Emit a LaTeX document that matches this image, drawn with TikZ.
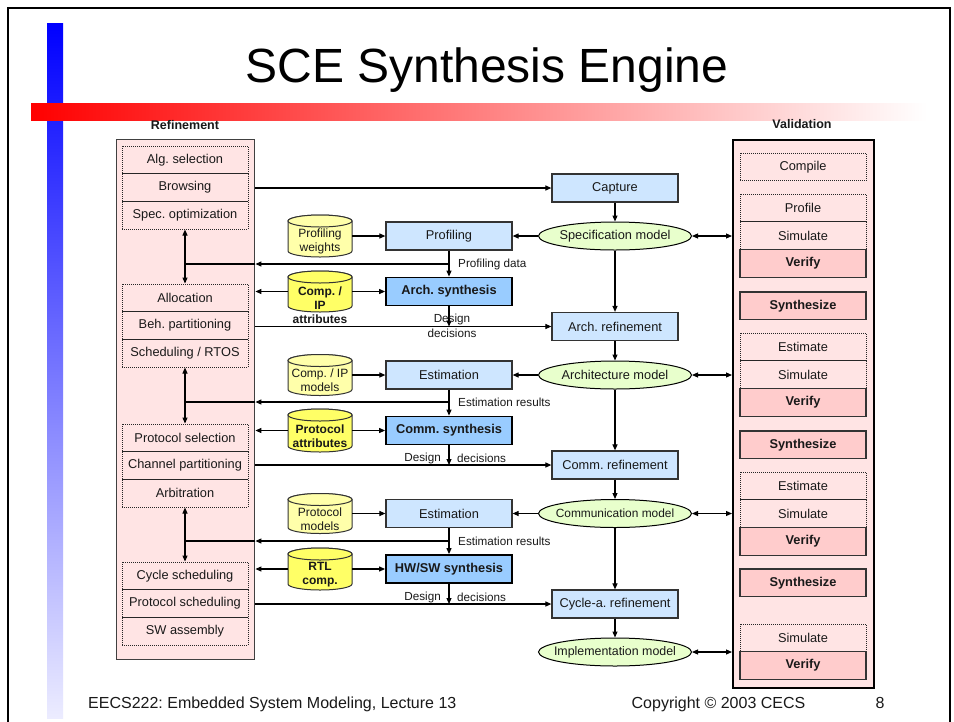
\documentclass[tikz,border=0pt]{standalone}
\usepackage{fontspec}
\setmainfont{Liberation Sans}
\usetikzlibrary{arrows.meta,shapes.geometric,calc}
\frenchspacing
\definecolor{pinkbg}{RGB}{255,228,228}
\definecolor{verif}{RGB}{255,204,204}
\definecolor{boxblue}{RGB}{206,230,255}
\definecolor{boldblue}{RGB}{153,204,255}
\definecolor{ellgreen}{RGB}{232,255,204}
\definecolor{lightyel}{RGB}{255,255,170}
\definecolor{boldyel}{RGB}{255,255,102}
\definecolor{barblue}{RGB}{0,0,255}
\definecolor{barfade}{RGB}{236,236,255}
\definecolor{barmid}{RGB}{255,150,150}
\definecolor{txt}{RGB}{25,25,25}
\newcommand\myfs[1]{\fontsize{#1}{#1}\selectfont}
\newcommand\dbcyl[7]{%
  \path[draw=black!80, line width=1pt, fill=#5]
    (#2-32,#3+#4/2-6) arc[start angle=180, end angle=360, x radius=32pt, y radius=6pt]
    -- (#2+32,#3-#4/2+6) arc[start angle=0, end angle=180, x radius=32pt, y radius=6pt] -- cycle;
  \draw[line width=1pt, draw=black!80, fill=#5] (#2,#3-#4/2+6) ellipse[x radius=32pt, y radius=6pt];
  \node[minimum width=64pt, minimum height=#4pt] (#1) at (#2,#3) {};
  \node[align=center, text=txt, font=\fontsize{12}{14}\selectfont] at (#2,#3+#6) {#7};
}
\begin{document}
\begin{tikzpicture}[x=1pt,y=-1pt,
  every node/.style={inner sep=0pt, font=\myfs{12.8}, text=txt},
  rowbox/.style={draw=black!85, dash pattern=on 1pt off 1pt, line width=0.9pt, minimum width=126pt, minimum height=27.7pt},
  vbox/.style={draw=black!80, line width=1.2pt, fill=verif, minimum width=126pt, minimum height=27.7pt, font=\bfseries\myfs{12.8}},
  mbox/.style={draw=black!80, line width=1.2pt, fill=boxblue, minimum width=126pt, minimum height=28pt},
  sbox/.style={mbox, fill=boldblue, line width=1.8pt, draw=black, font=\bfseries\myfs{12.8}},
  ell/.style={ellipse, draw=black, line width=1pt, fill=ellgreen, minimum width=153pt, minimum height=28pt},
  arr/.style={-{Triangle[length=6pt,width=5pt]}, line width=1.1pt},
  darr/.style={{Triangle[length=6pt,width=5pt]}-{Triangle[length=6pt,width=5pt]}, line width=1.1pt},
  thk/.style={line width=2.2pt},
  lbl/.style={font=\myfs{11.7}}
]
\path[use as bounding box, fill=white] (0,0) rectangle (954,721);
% slide decoration
\shade[top color=barblue, bottom color=barfade] (47,23) rectangle (63,718);
\shade[left color=red, middle color=barmid, right color=white] (31,103) rectangle (927,120);
\draw[line width=2pt] (8,725) -- (8,8) -- (950,8) -- (950,725);
\node[font=\myfs{48}, text=black, anchor=base] (title) at (487,82) {SCE Synthesis Engine};
\node[font=\bfseries\myfs{12.5}] (reflbl) at (185,125) {Refinement};
\node[font=\bfseries\myfs{12.5}] (vallbl) at (802,124) {Validation};

% panels
\node[draw=black!75, line width=1.4pt, fill=pinkbg, minimum width=138pt, minimum height=520pt, anchor=north west] (lp) at (116,139) {};
\node[draw=black, line width=2pt, fill=pinkbg, minimum width=141pt, minimum height=548pt, anchor=north west] (vp) at (732,139) {};

% refinement rows
\node[rowbox] (alg) at (185,159.85) {Alg. selection};
\node[rowbox] (browse) at (185,187.55) {Browsing};
\node[rowbox] (specopt) at (185,215.25) {Spec. optimization};
\node[rowbox] (alloc) at (185,297.85) {Allocation};
\node[rowbox] (behpart) at (185,325.55) {Beh. partitioning};
\node[rowbox] (sched) at (185,353.25) {Scheduling / RTOS};
\node[rowbox] (protsel) at (185,437.85) {Protocol selection};
\node[rowbox] (chanpart) at (185,465.55) {Channel partitioning};
\node[rowbox] (arbit) at (185,493.25) {Arbitration};
\node[rowbox] (cycsched) at (185,575.85) {Cycle scheduling};
\node[rowbox] (protsched) at (185,603.55) {Protocol scheduling};
\node[rowbox] (swasm) at (185,631.25) {SW assembly};

% validation rows
\node[rowbox] (compile) at (803,166.85) {Compile};
\node[rowbox] (profile) at (803,207.85) {Profile};
\node[rowbox] (sim1) at (803,235.55) {Simulate};
\node[vbox] (ver1) at (803,263.25) {Verify};
\node[vbox] (syn1) at (803,305.85) {Synthesize};
\node[rowbox] (est1v) at (803,346.85) {Estimate};
\node[rowbox] (sim2) at (803,374.55) {Simulate};
\node[vbox] (ver2) at (803,402.25) {Verify};
\node[vbox] (syn2) at (803,444.85) {Synthesize};
\node[rowbox] (est2v) at (803,485.85) {Estimate};
\node[rowbox] (sim3) at (803,513.55) {Simulate};
\node[vbox] (ver3) at (803,541.25) {Verify};
\node[vbox] (syn3) at (803,582.85) {Synthesize};
\node[rowbox] (sim4) at (803,637.85) {Simulate};
\node[vbox] (ver4) at (803,665.55) {Verify};

% middle boxes
\node[mbox] (capture) at (615,188) {Capture};
\node[mbox] (profiling) at (449,236) {Profiling};
\node[sbox] (archsyn) at (449,291.5) {Arch. synthesis};
\node[mbox] (archref) at (615,326.5) {Arch. refinement};
\node[mbox] (estA) at (449,375) {Estimation};
\node[sbox] (commsyn) at (449,430.5) {Comm. synthesis};
\node[mbox] (commref) at (615,465) {Comm. refinement};
\node[mbox] (estB) at (449,513.5) {Estimation};
\node[sbox] (hwsw) at (449,569) {HW/SW synthesis};
\node[mbox] (cycref) at (615,604) {Cycle-a. refinement};

% ellipses
\node[ell] (spec) at (615,236) {};
\node at (spec) {Specification model};
\node[ell] (archm) at (615,375) {};
\node at (archm) {Architecture model};
\node[ell] (commm) at (615,513.5) {};
\node[font=\myfs{11.9}] at (commm) {Communication model};
\node[ell] (implm) at (615,652) {};
\node[font=\myfs{12.4}] at (implm) {Implementation model};

% cylinders
\dbcyl{profw}{320}{236}{42}{lightyel}{5.5}{Profiling\\weights}
\dbcyl{cipa}{320}{291.5}{41}{boldyel}{13.5}{\bfseries Comp. /\\\bfseries IP\\\bfseries attributes}
\dbcyl{cipm}{320}{375}{41}{lightyel}{5.5}{Comp. / IP\\models}
\dbcyl{prota}{320}{430.5}{43}{boldyel}{5.5}{\bfseries Protocol\\\bfseries attributes}
\dbcyl{protm}{320}{513.5}{40}{lightyel}{5.5}{Protocol\\models}
\dbcyl{rtl}{320}{569}{42}{boldyel}{6}{\bfseries RTL\\\bfseries comp.}

% helper points
\coordinate (pd) at (449,264);
\coordinate (er1) at (449,402);
\coordinate (er2) at (449,541);

% connectors: main flow
\draw[arr] (lp.east |- capture.west) -- (capture.west);
\draw[arr] (capture.south) -- (spec.north);
\draw[arr] (spec.west) -- (profiling.east);
\draw[darr] (spec.east) -- (spec.east -| vp.west);
\draw[arr] (spec.south) -- (archref.north);
\draw[arr] (profw.east) -- (profiling.west);
\draw[arr] (profiling.south) -- (archsyn.north);
\draw[arr] (pd) -- (pd -| lp.east);
\draw[thk] (pd -| lp.east) -- (pd -| specopt.south);
\draw[darr] (specopt.south) -- (alloc.north);
\draw[arr] (cipa.west) -- (cipa.west -| lp.east);
\draw[arr] (cipa.east) -- (archsyn.west);
\draw[arr] (archsyn.south) -- (archsyn.south |- archref.west);
\draw[arr] (lp.east |- archref.west) -- (archref.west);

\draw[arr] (archref.south) -- (archm.north);
\draw[arr] (archm.west) -- (estA.east);
\draw[darr] (archm.east) -- (archm.east -| vp.west);
\draw[arr] (archm.south) -- (commref.north);
\draw[arr] (cipm.east) -- (estA.west);
\draw[arr] (estA.south) -- (commsyn.north);
\draw[arr] (er1) -- (er1 -| lp.east);
\draw[thk] (er1 -| lp.east) -- (er1 -| sched.south);
\draw[darr] (sched.south) -- (protsel.north);
\draw[arr] (prota.west) -- (prota.west -| lp.east);
\draw[arr] (prota.east) -- (commsyn.west);
\draw[arr] (commsyn.south) -- (commsyn.south |- commref.west);
\draw[arr] (lp.east |- commref.west) -- (commref.west);

\draw[arr] (commref.south) -- (commm.north);
\draw[arr] (commm.west) -- (estB.east);
\draw[darr] (commm.east) -- (commm.east -| vp.west);
\draw[arr] (commm.south) -- (cycref.north);
\draw[arr] (protm.east) -- (estB.west);
\draw[arr] (estB.south) -- (hwsw.north);
\draw[arr] (er2) -- (er2 -| lp.east);
\draw[thk] (er2 -| lp.east) -- (er2 -| arbit.south);
\draw[darr] (arbit.south) -- (cycsched.north);
\draw[arr] (rtl.west) -- (rtl.west -| lp.east);
\draw[arr] (rtl.east) -- (hwsw.west);
\draw[arr] (hwsw.south) -- (hwsw.south |- cycref.west);
\draw[arr] (lp.east |- cycref.west) -- (cycref.west);

\draw[arr] (cycref.south) -- (implm.north);
\draw[darr] (implm.east) -- (implm.east -| vp.west);

% labels
\node[lbl, anchor=west] (lpd) at (458,264) {Profiling data};
\node[lbl, align=center, font=\fontsize{11.7}{15}\selectfont] (ldd1) at (452,325.5) {Design\\decisions};
\node[lbl, anchor=west] (ler1) at (458,402) {Estimation results};
\node[lbl, anchor=east] (ldd2a) at (441,458) {Design};
\node[lbl, anchor=west] (ldd2b) at (457,458) {decisions};
\node[lbl, anchor=west] (ler2) at (458,541) {Estimation results};
\node[lbl, anchor=east] (ldd3a) at (441,597) {Design};
\node[lbl, anchor=west] (ldd3b) at (457,597) {decisions};

% footer
\node[font=\myfs{16}, anchor=base west] (foot1) at (88,708) {EECS222: Embedded System Modeling, Lecture 13};
\node[font=\myfs{16}, anchor=base] (foot2) at (718.5,708) {Copyright © 2003 CECS};
\node[font=\myfs{16}, anchor=base] (foot3) at (880,708) {8};
\end{tikzpicture}
\end{document}
